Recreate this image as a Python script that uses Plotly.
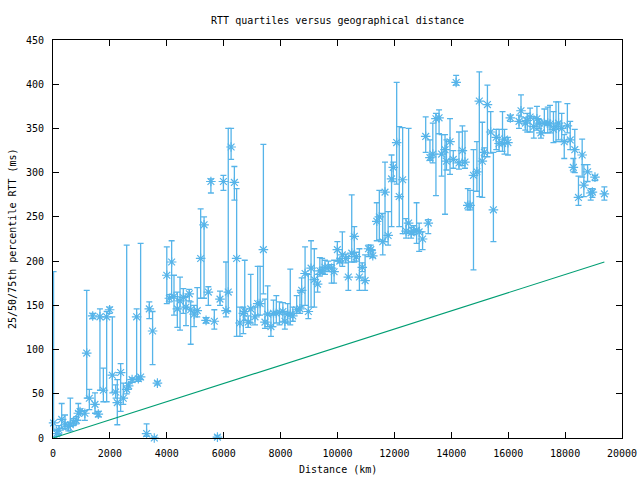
import plotly.graph_objects as go

# Distance (km) of each measurement bucket
distance_km = [
    20, 130, 211, 305, 422, 539, 609, 715, 820, 890, 950, 1120,
    1185, 1277, 1395, 1476, 1593, 1650, 1770, 1886, 1990, 2085, 2200, 2260,
    2378, 2470, 2590, 2660, 2780, 2940, 3000, 3080, 3290, 3385, 3500, 3560,
    3670, 4000, 4090, 4170, 4253, 4370, 4465, 4580, 4675, 4790, 4840, 4960,
    5070, 5190, 5310, 5380, 5460, 5550, 5670, 5780, 5870, 5990, 6080, 6160,
    6260, 6375, 6455, 6570, 6690, 6740, 6860, 6950, 7100, 7195, 7280, 7395,
    7450, 7545, 7660, 7750, 7850, 7960, 8080, 8150, 8250, 8340, 8430, 8565,
    8680, 8740, 8860, 8975, 9070, 9185, 9300, 9380, 9460, 9560, 9680, 9790,
    9880, 9995, 10080, 10170, 10290, 10380, 10500, 10590, 10660, 10770, 10870, 10970,
    11090, 11170, 11240, 11380, 11470, 11590, 11670, 11780, 11900, 11960, 12080, 12170,
    12290, 12410, 12500, 12590, 12680, 12780, 12870, 12990, 13100, 13190, 13250, 13350,
    13460, 13570, 13660, 13780, 13830, 13955, 14070, 14170, 14270, 14390, 14480, 14580,
    14660, 14780, 14900, 14985, 15090, 15160, 15270, 15385, 15480, 15580, 15680, 15800,
    15870, 15990, 16075, 16380, 16450, 16600, 16670, 16770, 16900, 17010, 17090, 17150,
    17270, 17390, 17470, 17590, 17680, 17770, 17880, 17970, 18080, 18180, 18290, 18340,
    18470, 18600, 18660, 18790, 18900, 18960, 19050, 19380,
]

# 50th percentile RTT (ms)
rtt_median = [
    17, 5, 9, 21, 15, 13, 15, 18, 20, 28, 30, 28,
    96, 45, 138, 38, 27, 137, 54, 137, 145, 71, 52, 40,
    74, 45, 55, 59, 66, 137, 67, 69, 5, 146, 121, 0,
    62, 184, 158, 199, 160, 146, 155, 159, 148, 163, 145, 140,
    144, 203, 241, 133, 165, 290, 132, 1, 157, 290, 144, 165,
    329, 289, 203, 130, 141, 143, 131, 146, 137, 152, 152, 213,
    131, 140, 126, 141, 141, 142, 143, 132, 140, 140, 138, 145,
    146, 167, 186, 143, 192, 179, 174, 189, 189, 193, 193, 192,
    188, 213, 200, 207, 203, 182, 209, 228, 205, 182, 193, 178,
    214, 213, 206, 245, 250, 222, 278, 229, 293, 306, 334, 273,
    292, 234, 243, 232, 234, 235, 233, 225, 341, 243, 317, 321,
    361, 362, 321, 326, 313, 335, 315, 402, 311, 325, 312, 263,
    263, 297, 301, 381, 313, 323, 377, 346, 258, 340, 333, 333,
    338, 334, 362, 358, 370, 356, 359, 363, 352, 361, 356, 345,
    356, 356, 355, 349, 352, 356, 350, 335, 353, 337, 306, 326,
    272, 320, 286, 301, 277, 278, 295, 276,
]

# 25th percentile RTT (ms)
rtt_q25 = [
    8, 2, 4, 11, 10, 8, 8, 14, 16, 20, 27, 20,
    45, 32, 135, 28, 24, 54, 41, 41, 141, 51, 45, 15,
    30, 38, 50, 55, 63, 66, 64, 66, 2, 135, 83, 0,
    60, 152, 154, 159, 139, 125, 122, 141, 127, 155, 106, 126,
    137, 158, 158, 130, 150, 277, 123, 0, 150, 280, 137, 143,
    315, 269, 115, 115, 118, 133, 125, 130, 128, 139, 139, 163,
    124, 126, 115, 126, 130, 128, 131, 123, 130, 128, 132, 141,
    141, 148, 150, 135, 148, 148, 165, 183, 186, 185, 188, 175,
    175, 200, 198, 194, 198, 167, 199, 199, 200, 167, 188, 167,
    205, 208, 204, 223, 224, 207, 222, 218, 239, 290, 287, 239,
    231, 226, 231, 226, 230, 220, 211, 213, 323, 231, 314, 311,
    274, 344, 296, 253, 303, 298, 305, 399, 304, 308, 305, 258,
    258, 190, 279, 273, 272, 318, 318, 322, 222, 326, 324, 324,
    321, 320, 358, 350, 363, 348, 346, 346, 339, 348, 350, 339,
    345, 345, 345, 334, 335, 337, 335, 316, 345, 326, 301, 300,
    263, 295, 273, 290, 269, 272, 291, 269,
]

# 75th percentile RTT (ms)
rtt_q75 = [
    188, 10, 14, 39, 26, 17, 45, 22, 24, 39, 33, 31,
    167, 55, 141, 51, 30, 146, 79, 143, 148, 137, 60, 66,
    84, 62, 218, 62, 68, 146, 69, 220, 16, 154, 143, 1,
    64, 216, 162, 223, 184, 165, 182, 169, 160, 168, 154, 150,
    170, 259, 250, 136, 171, 293, 145, 3, 166, 297, 199, 350,
    350, 307, 282, 148, 148, 201, 138, 185, 148, 194, 194, 332,
    157, 172, 139, 156, 161, 154, 153, 143, 152, 191, 148, 161,
    165, 181, 216, 185, 223, 214, 185, 204, 203, 201, 200, 196,
    201, 222, 203, 233, 208, 205, 275, 239, 210, 214, 198, 207,
    218, 218, 212, 266, 280, 254, 312, 256, 320, 312, 402, 352,
    351, 248, 350, 238, 240, 266, 243, 233, 363, 247, 337, 356,
    367, 371, 343, 343, 337, 361, 325, 410, 346, 353, 347, 282,
    280, 326, 335, 414, 357, 328, 399, 369, 323, 349, 349, 369,
    349, 340, 365, 365, 388, 362, 367, 373, 363, 375, 360, 356,
    372, 374, 376, 369, 380, 380, 367, 343, 378, 358, 316, 349,
    296, 338, 309, 309, 282, 282, 297, 284,
]

# Lower-bound (light in fibre) line
bound_km = [0, 19380]
bound_ms = [0, 199]

# Axis tick values (the last x label is drawn as an annotation so it is not hidden)
x_ticks = [0, 2000, 4000, 6000, 8000, 10000, 12000, 14000, 16000, 18000, 20000]
y_ticks = [0, 50, 100, 150, 200, 250, 300, 350, 400, 450]

BLUE = "#56b4e9"
GREEN = "#009e73"
FONT = "DejaVu Sans Mono"

err_plus = [h - m for h, m in zip(rtt_q75, rtt_median)]
err_minus = [m - l for m, l in zip(rtt_median, rtt_q25)]

fig = go.Figure()
fig.add_trace(go.Scatter(
    x=distance_km, y=rtt_median, mode="markers",
    marker=dict(symbol="asterisk-open", size=8, color=BLUE,
                line=dict(color=BLUE, width=1.2)),
    error_y=dict(type="data", symmetric=False, array=err_plus,
                 arrayminus=err_minus, color=BLUE, thickness=1.3, width=3),
    cliponaxis=False, showlegend=False,
))
fig.add_trace(go.Scatter(
    x=bound_km, y=bound_ms, mode="lines",
    line=dict(color=GREEN, width=1.1), showlegend=False,
))

axis_common = dict(
    showline=True, linecolor="black", linewidth=1, mirror="ticks",
    ticks="inside", ticklen=6, tickcolor="black", tickwidth=1,
    showgrid=False, zeroline=False, tickformat="d",
    ticklabeloverflow="allow", ticklabelstandoff=6,
    tickfont=dict(family=FONT, size=10, color="black"),
)
fig.update_xaxes(range=[0, 20000], tickmode="array", tickvals=x_ticks,
                 ticktext=[str(v) for v in x_ticks[:-1]] + [""], **axis_common)
fig.update_yaxes(range=[0, 450], tickmode="array", tickvals=y_ticks,
                 ticktext=[str(v) for v in y_ticks], **axis_common)

fig.update_layout(
    width=640, height=480,
    margin=dict(l=53, r=18, t=40, b=42),
    plot_bgcolor="white", paper_bgcolor="white",
    font=dict(family=FONT, size=10, color="black"),
    title=dict(text="RTT quartiles versus geographical distance",
               x=0.5, xref="paper", xanchor="center",
               y=1 - 20 / 480, yref="container", yanchor="middle",
               font=dict(family=FONT, size=10, color="black")),
    annotations=[
        dict(text=str(x_ticks[-1]), x=x_ticks[-1], xref="x", y=(438 - 453) / 398,
             yref="paper", xanchor="center", yanchor="middle",
             showarrow=False, font=dict(family=FONT, size=10, color="black")),
        dict(text="Distance (km)", x=0.5, xref="paper", y=(438 - 470) / 398,
             yref="paper", xanchor="center", yanchor="middle",
             showarrow=False, font=dict(family=FONT, size=10, color="black")),
        dict(text="25/50/75th percentile RTT (ms)", x=(12 - 53) / 569, xref="paper",
             y=0.5, yref="paper", xanchor="center", yanchor="middle",
             textangle=-90, showarrow=False,
             font=dict(family=FONT, size=10, color="black")),
    ],
)

fig.write_html("out.html")
